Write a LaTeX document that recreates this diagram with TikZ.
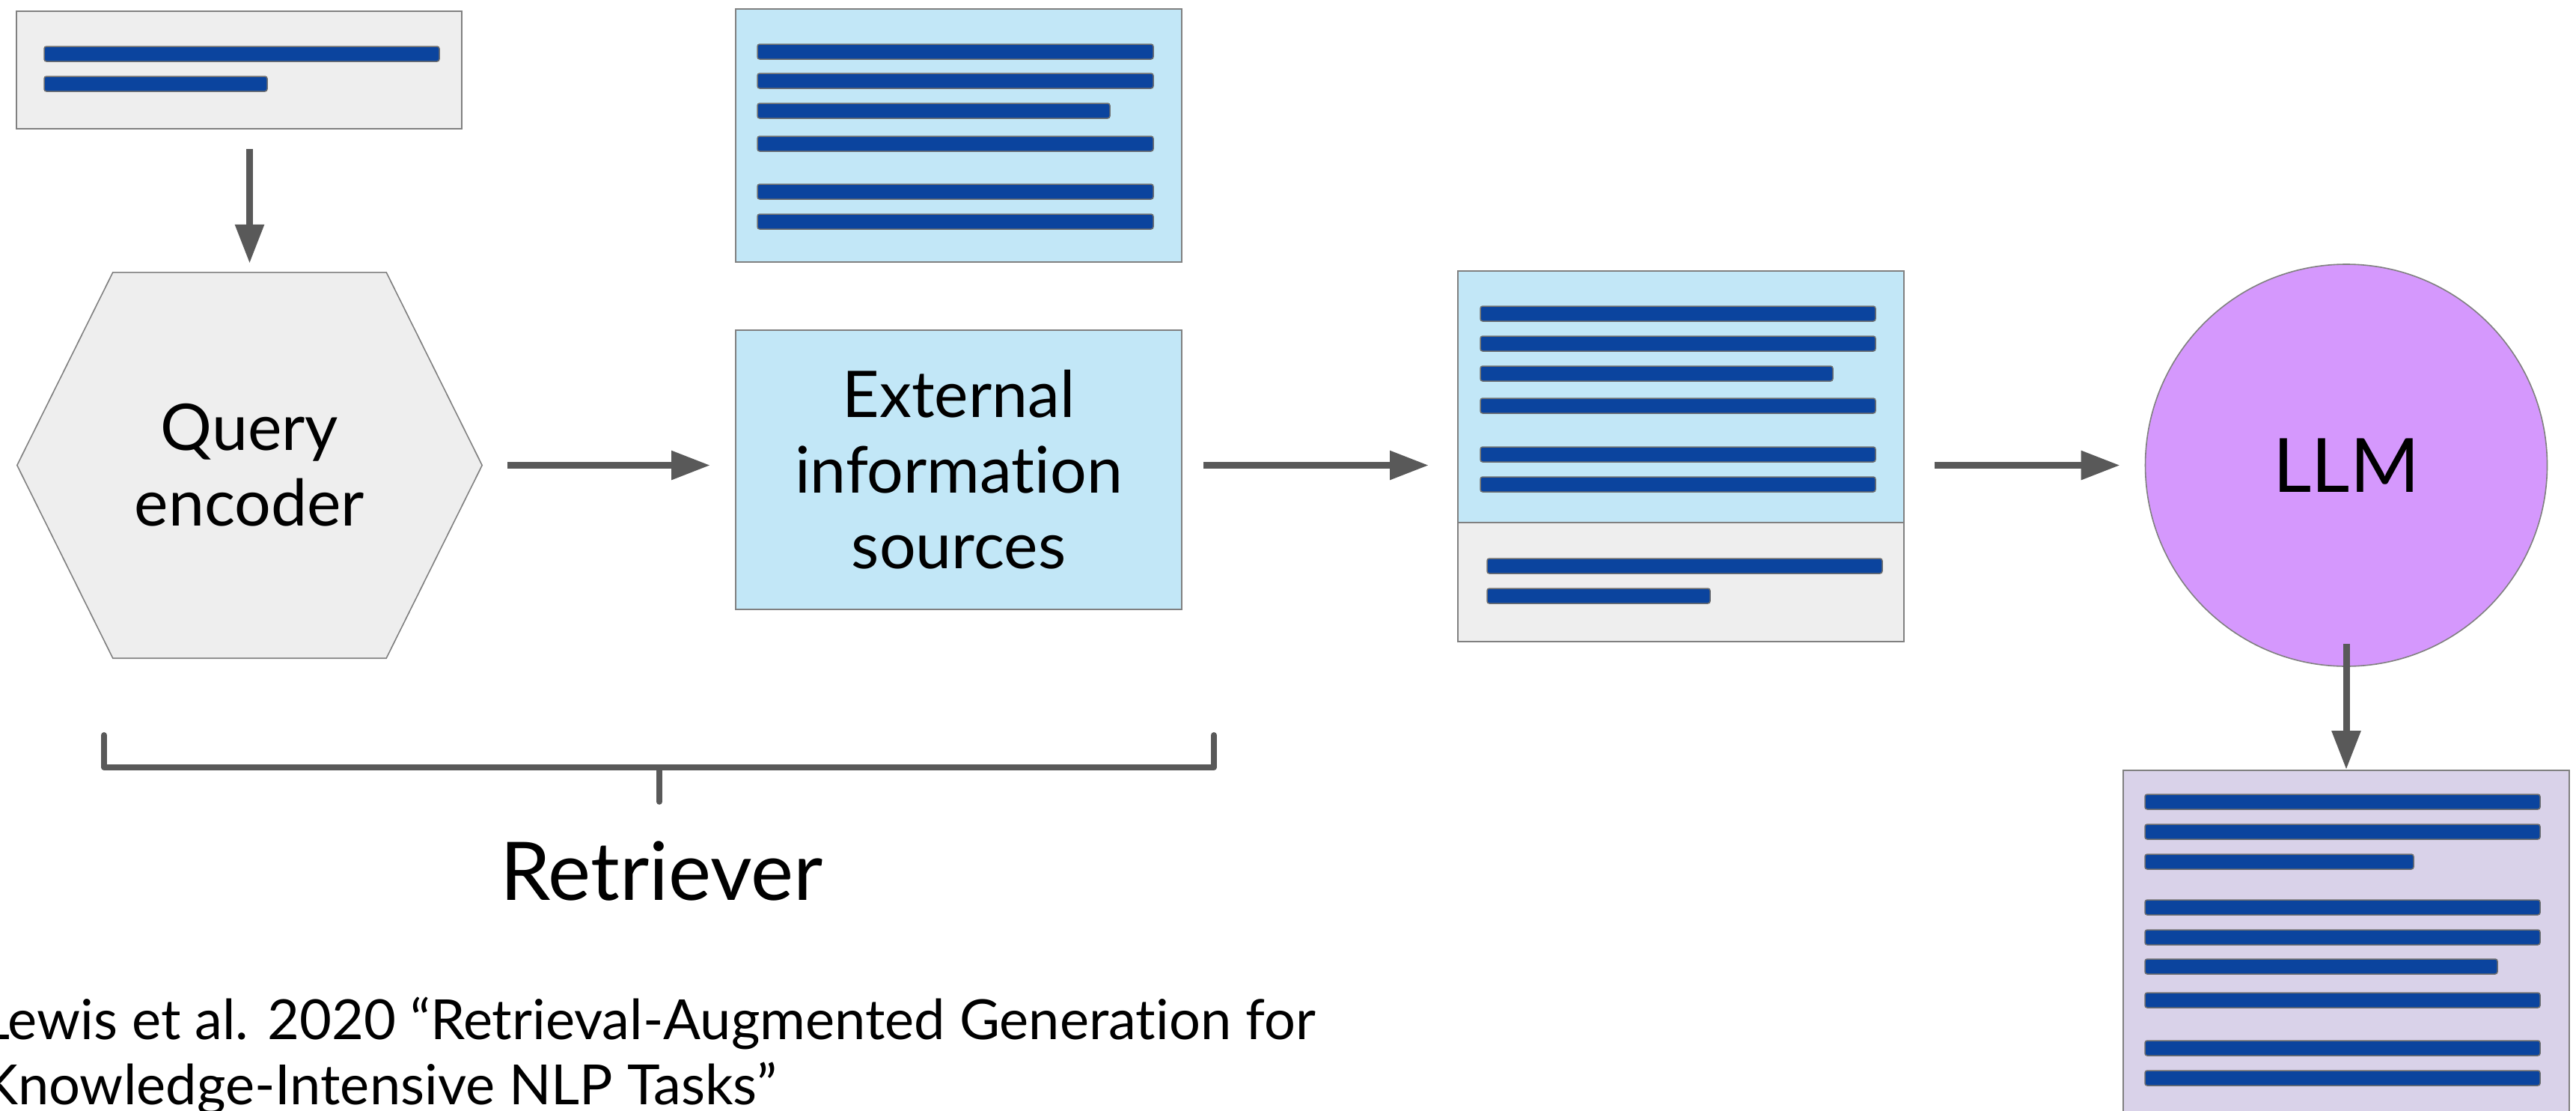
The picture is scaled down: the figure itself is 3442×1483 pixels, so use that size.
\documentclass[tikz,border=0pt]{standalone}
\usepackage{fontspec}
\setmainfont{Lato}[Ligatures={NoCommon,NoContextual}]
\usetikzlibrary{arrows.meta,backgrounds}
\definecolor{qgray}{HTML}{EEEEEE}
\definecolor{boxline}{HTML}{808080}
\definecolor{docblue}{HTML}{C2E7F7}
\definecolor{barblue}{HTML}{0B449E}
\definecolor{bargray}{HTML}{6E6E6E}
\definecolor{llmfill}{HTML}{D598FD}
\definecolor{outfill}{HTML}{D9D2E9}
\definecolor{arrowgray}{HTML}{595959}
\newcommand\docbar[3]{\draw[docbar] (#1,#3-10) rectangle (#2,#3+10);}
\begin{document}
\begin{tikzpicture}[x=1pt,y=-1pt,
  box/.style={draw=boxline, line width=2pt, inner sep=0pt},
  docbar/.style={fill=barblue, draw=bargray, line width=1.5pt, rounded corners=3pt},
  flow/.style={draw=arrowgray, line width=9pt, -{Triangle[length=52pt,width=37pt]}},
  bracket/.style={draw=arrowgray, line width=8pt, line cap=round, line join=round},
  bigtext/.style={font=\fontsize{86pt}{101pt}\selectfont, align=center, text=black},
  citetext/.style={anchor=base west, inner sep=0pt, font=\fontsize{74pt}{87pt}\selectfont}
]
\useasboundingbox (0,0) rectangle (3442,1483);

% query box
\node[box, fill=qgray, minimum width=595pt, minimum height=157pt] (query) at (319.5,93.5) {};
\docbar{59}{587}{72}
\docbar{59}{357}{112}

% hexagon (query encoder)
\node[bigtext, minimum width=621pt, minimum height=515pt, inner sep=0pt] (hex) at (333.5,621.5) {Query\\encoder};
\begin{scope}[on background layer]
\fill[white] (0,0) rectangle (3442,1483);
\draw[draw=boxline, line width=1.6pt, fill=qgray]
  (hex.west) -- ([xshift=128pt]hex.north west) -- ([xshift=-128pt]hex.north east)
  -- (hex.east) -- ([xshift=-128pt]hex.south east) -- ([xshift=128pt]hex.south west) -- cycle;
\end{scope}

% source documents
\node[box, fill=docblue, minimum width=596pt, minimum height=338pt] (srcdoc) at (1281,181) {};
\docbar{1012}{1541}{69}
\docbar{1012}{1541}{108}
\docbar{1012}{1483}{148}
\docbar{1012}{1541}{192}
\docbar{1012}{1541}{256}
\docbar{1012}{1541}{296}

% external information sources
\node[box, bigtext, fill=docblue, minimum width=596pt, minimum height=373pt] (ext) at (1281,627.5) {External\\information\\sources};

% merged prompt
\node[box, fill=docblue, minimum width=596pt, minimum height=336pt] (mblue) at (2246,530) {};
\node[box, fill=qgray, minimum width=596pt, minimum height=159pt] (mgray) at (2246,777.5) {};
\docbar{1978}{2506}{419}
\docbar{1978}{2506}{459}
\docbar{1978}{2449}{499}
\docbar{1978}{2506}{542}
\docbar{1978}{2506}{607}
\docbar{1978}{2506}{647}
\docbar{1987}{2515}{756}
\docbar{1987}{2285}{796}

% LLM
\node[draw=boxline, line width=1.6pt, fill=llmfill, circle, minimum size=537pt, inner sep=0pt,
  font=\fontsize{100pt}{120pt}\selectfont] (llm) at (3135,621.5) {LLM};

% output
\node[box, fill=outfill, minimum width=596pt, minimum height=501pt] (out) at (3135,1279.5) {};
\docbar{2866}{3394}{1071}
\docbar{2866}{3394}{1111}
\docbar{2866}{3225}{1151}
\docbar{2866}{3394}{1212}
\docbar{2866}{3394}{1252}
\docbar{2866}{3337}{1291}
\docbar{2866}{3394}{1336}
\docbar{2866}{3394}{1400}
\docbar{2866}{3394}{1440}

% connectors
\draw[flow, shorten <=26pt, shorten >=12pt] (query.south -| hex.north) -- (hex.north);
\draw[flow, shorten <=34pt, shorten >=33pt] (hex.east) -- (hex.east -| ext.west);
\draw[flow, shorten <=28pt, shorten >=38pt] (hex.east -| ext.east) -- (hex.east -| mblue.west);
\draw[flow, shorten <=40pt, shorten >=33pt] (llm.west -| mblue.east) -- (llm.west);
\draw[flow, shorten <=-31pt] (llm.south) -- (out.north);

% retriever bracket
\coordinate (brL) at (139,982);
\coordinate (brR) at (1622,982);
\coordinate (brM) at (881,1025);
\coordinate (brT) at (881,1071);
\draw[bracket] (brL) -- (brL |- brM) -- (brR |- brM) -- (brR);
\draw[bracket, line width=7.5pt] (brM) -- (brT);
\node[anchor=base, font=\fontsize{108pt}{120pt}\selectfont] (retr) at (884,1202) {Retriever};

% citation
\node[citetext] (cite1) at (-25,1388) {Lewis et al. 2020 “Retrieval-Augmented Generation for};
\node[citetext] (cite2) at (-25,1475) {Knowledge-Intensive NLP Tasks”};
\end{tikzpicture}
\end{document}
